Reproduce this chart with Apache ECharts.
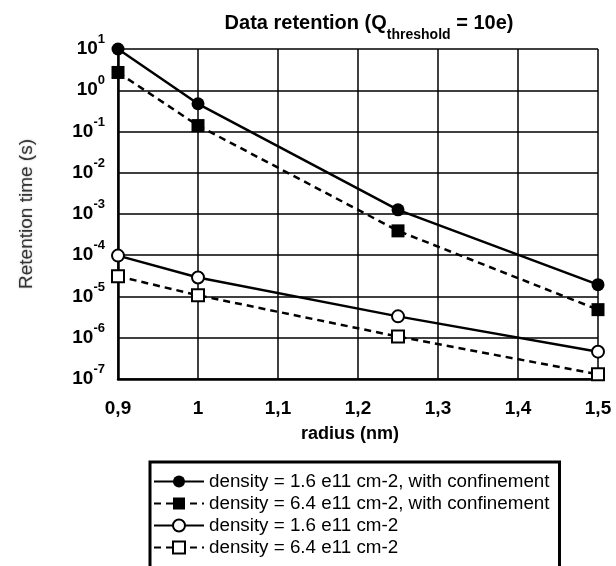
<!DOCTYPE html>
<html>
<head>
<meta charset="utf-8">
<script src="https://cdn.jsdelivr.net/npm/echarts@6/dist/echarts.min.js"></script>
<style>
html,body{margin:0;padding:0;background:#fff;}
#c{width:616px;height:566px;}
</style>
</head>
<body>
<div id="c"></div>
<script>
// ---- data ----
var radius = [0.9, 1, 1.25, 1.5];
var seriesNames = [
  'density = 1.6 e11 cm-2, with confinement',
  'density = 6.4 e11 cm-2, with confinement',
  'density = 1.6 e11 cm-2',
  'density = 6.4 e11 cm-2'
];
var conf16 = [10, 0.47, 1.26e-3, 1.94e-5];
var conf64 = [2.7, 0.139, 3.9e-4, 4.8e-6];
var plain16 = [9.8e-5, 2.9e-5, 3.3e-6, 4.6e-7];
var plain64 = [3.1e-5, 1.07e-5, 1.07e-6, 1.3e-7];
var xTickLabels = ['0,9', '1', '1,1', '1,2', '1,3', '1,4', '1,5'];

function zip(xs, ys) { return xs.map(function (x, i) { return [x, ys[i]]; }); }

var FONT = '"Liberation Sans", Arial, sans-serif';
var chart = echarts.init(document.getElementById('c'), null, {renderer: 'canvas'});

function mkSeries(name, values, symbol, dashed, size, bw) {
  return {
    name: name,
    type: 'line',
    data: zip(radius, values),
    symbol: symbol,
    symbolSize: size,
    clip: false,
    z: 3,
    lineStyle: {color: '#000', width: 2.5, type: dashed ? [7, 5] : 'solid'},
    itemStyle: {color: '#000', borderColor: '#000', borderWidth: bw},
    emphasis: {disabled: true}
  };
}

var option = {
  animation: false,
  backgroundColor: '#fff',
  title: {
    text: '{a|Data retention (Q}{sub|threshold}{a| = 10e)}',
    left: 364,
    top: 8,
    textAlign: 'center',
    textStyle: {
      rich: {
        a: {fontFamily: FONT, fontWeight: 'bold', fontSize: 20, lineHeight: 20, verticalAlign: 'top', color: '#000'},
        sub: {fontFamily: FONT, fontWeight: 'bold', fontSize: 14, lineHeight: 29, verticalAlign: 'bottom', color: '#000'}
      }
    }
  },
  grid: {left: 118, right: 18, top: 49, bottom: 187, containLabel: false},
  xAxis: {
    type: 'value',
    min: 0.9,
    max: 1.5,
    interval: 0.1,
    name: 'radius (nm)',
    nameLocation: 'middle',
    nameGap: 46,
    nameTextStyle: {fontFamily: FONT, fontWeight: 'bold', fontSize: 18, color: '#000', padding: [0, 16, 0, 0]},
    axisLine: {show: true, onZero: false, lineStyle: {color: '#000', width: 2.5}},
    axisTick: {show: false},
    splitLine: {show: true, lineStyle: {color: '#000', width: 1.5}},
    axisLabel: {
      margin: 20,
      fontFamily: FONT, fontWeight: 'bold', fontSize: 19, color: '#000',
      formatter: function (v) {
        var idx = Math.round((v - 0.9) / 0.1);
        return xTickLabels[idx] !== undefined ? xTickLabels[idx] : '';
      }
    }
  },
  yAxis: {
    type: 'log',
    logBase: 10,
    min: 1e-7,
    max: 10,
    interval: 1,
    name: 'Retention time (s)',
    nameLocation: 'middle',
    nameRotate: 90,
    nameGap: 82,
    nameTextStyle: {fontFamily: FONT, fontSize: 19, color: '#333', textShadowColor: 'rgba(0,0,0,0.35)', textShadowBlur: 2},
    axisLine: {show: true, lineStyle: {color: '#000', width: 2.5}},
    axisTick: {show: false},
    splitLine: {show: true, lineStyle: {color: '#000', width: 1.5}},
    axisLabel: {
      margin: 13,
      formatter: function (v) {
        var e = Math.round(Math.log(v) / Math.LN10);
        return '{b|10}{sup|' + e + '}';
      },
      rich: {
        b: {fontFamily: FONT, fontWeight: 'bold', fontSize: 19, lineHeight: 32, verticalAlign: 'middle', color: '#000'},
        sup: {fontFamily: FONT, fontWeight: 'bold', fontSize: 13, lineHeight: 13, verticalAlign: 'top', color: '#000'}
      }
    }
  },
  legend: {
    orient: 'vertical',
    left: 150,
    top: 462,
    height: 140,
    padding: [10, 10, 30, 3],
    itemGap: 3,
    itemWidth: 50,
    itemHeight: 15,
    borderColor: '#000',
    borderWidth: 3,
    backgroundColor: '#fff',
    textStyle: {fontFamily: FONT, fontSize: 18.8, color: '#000'},
    data: seriesNames
  },
  series: [
    mkSeries(seriesNames[0], conf16, 'circle', false, 13, 0),
    mkSeries(seriesNames[1], conf64, 'rect', true, 13, 0),
    mkSeries(seriesNames[2], plain16, 'emptyCircle', false, 12, 2),
    mkSeries(seriesNames[3], plain64, 'emptyRect', true, 12, 1.5)
  ]
};
chart.setOption(option);
</script>
</body>
</html>
